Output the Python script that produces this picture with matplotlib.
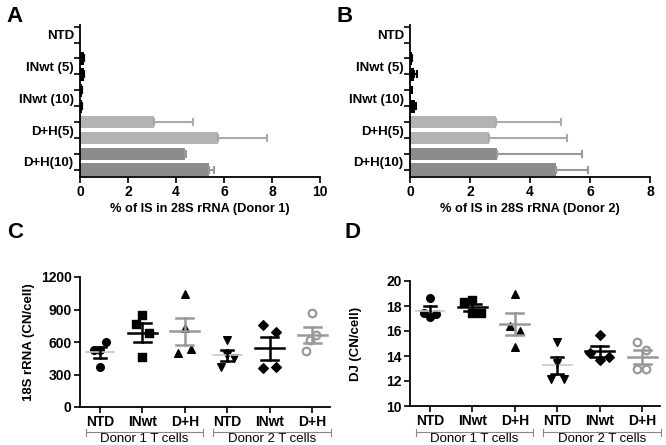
import numpy as np
import matplotlib
matplotlib.use("Agg")
import matplotlib.pyplot as plt
import matplotlib.transforms as mtransforms

plt.rcParams['font.family'] = ['Liberation Sans', 'DejaVu Sans']
plt.rcParams['axes.linewidth'] = 1.3

# panels A/B: two bars per condition
bar_groups = ["NTD", "INwt (5)", "INwt (10)", "D+H(5)", "D+H(10)"]
a_vals = [0.01, 0.01, 0.15, 0.15, 0.09, 0.09, 3.08, 5.74, 4.39, 5.38]
a_err = [0, 0, 0.02, 0.02, 0.01, 0.01, 1.61, 2.04, 0.02, 0.19]
b_vals = [0.01, 0.01, 0.07, 0.14, 0.04, 0.16, 2.87, 2.64, 2.89, 4.86]
b_err = [0, 0, 0.01, 0.10, 0.01, 0.05, 2.16, 2.58, 2.83, 1.08]

# panels C/D: dot plots
cats = ["NTD", "INwt", "D+H", "NTD", "INwt", "D+H"]
c_pts = [
    [526, 530, 597, 366],
    [849, 763, 680, 458],
    [1043, 726, 495, 532],
    [618, 480, 449, 366],
    [757, 695, 357, 366],
    [865, 665, 618, 520],
]
d_pts = [
    [18.67, 17.41, 17.10, 17.34],
    [18.29, 18.48, 17.40, 17.40],
    [18.93, 16.43, 16.00, 14.75],
    [15.15, 13.47, 12.20, 12.20],
    [15.68, 14.21, 13.68, 13.95],
    [15.15, 14.50, 12.95, 12.95],
]

# horizontal scatter of the points inside each column (layout only)
c_jit = [[-0.15, 0, 0.15, 0], [0, -0.15, 0.15, 0], [0, 0, -0.15, 0.15],
         [0, 0, 0.15, -0.15], [-0.15, 0.15, -0.15, 0.15], [0, 0.1, -0.05, -0.14]]
d_jit = [[0, -0.15, 0, 0.15], [-0.19, 0, 0, 0.2], [0, -0.12, 0.12, 0],
         [0, 0, -0.15, 0.15], [0, -0.22, 0, 0.22], [-0.12, 0.08, -0.12, 0.1]]

W, H = 666, 445
fig = plt.figure(figsize=(W / 100, H / 100), dpi=100)


def ax_px(l, t, r, b):
    return fig.add_axes([l / W, 1 - b / H, (r - l) / W, (b - t) / H])


def bar_panel(ax, vals, err, xmax, xlabel):
    y = np.arange(len(vals))
    cols = ["black"] * 6 + ["#b3b3b3"] * 2 + ["#8c8c8c"] * 2
    ecols = ["black"] * 6 + ["#aaaaaa"] * 2 + ["#999999"] * 2
    ax.barh(y, vals, height=0.8, color=cols)
    for yi, v, e, ec in zip(y, vals, err, ecols):
        if e > 0:
            ax.errorbar(v, yi, xerr=[[0], [e]], color=ec, lw=1.5, capsize=3, capthick=1.5)
    ax.set_ylim(9.45, -0.1)
    ax.set_xlim(0, xmax)
    ax.set_yticks(y)
    ax.set_yticklabels([])
    ax.set_yticks(np.arange(5) * 2 + 0.5, minor=True)
    ax.set_yticklabels(bar_groups, minor=True, fontweight='bold', fontsize=9.5)
    ax.tick_params(axis='y', which='minor', length=0, pad=4.5)
    ax.tick_params(axis='y', which='major', length=4, width=1.2)
    ax.set_xticks(np.arange(0, xmax + 1, 2))
    ax.tick_params(axis='x', length=4, width=1.2, labelsize=10, pad=2)
    for t in ax.get_xticklabels():
        t.set_fontweight('bold')
    ax.set_xlabel(xlabel, fontweight='bold', fontsize=9.2, labelpad=3)
    for s in ["top", "right"]:
        ax.spines[s].set_visible(False)


def dot_panel(ax, pts, jit, ylim, yticks, ylabel, lab_x):
    markers = ['o', 's', '^', 'v', 'D', 'o']
    sizes = [30, 30, 30, 30, 24, 30]
    for i, p in enumerate(pts):
        p = np.array(p, dtype=float)
        m = p.mean()
        sem = p.std(ddof=1) / np.sqrt(len(p))
        xs = i + np.array(jit[i])
        if i == 5:
            ax.scatter(xs, p, marker='o', s=sizes[i], facecolor='white',
                       edgecolor='#999999', lw=1.6, zorder=3)
        else:
            ax.scatter(xs, p, marker=markers[i], s=sizes[i], color='black', zorder=3)
        if i in (0, 3):
            mcol, ecol, mlw, cw = '#c8c8c8', 'black', 1.2, 0.14
        elif i in (2, 5):
            mcol, ecol, mlw, cw = '#999999', '#999999', 1.8, 0.2
        else:
            mcol, ecol, mlw, cw = 'black', 'black', 1.8, 0.2
        ax.plot([i - 0.34, i + 0.34], [m, m], color=mcol, lw=mlw, zorder=4)
        ax.plot([i, i], [m - sem, m + sem], color=ecol, lw=1.8, zorder=4)
        ax.plot([i - cw, i + cw], [m + sem, m + sem], color=ecol, lw=1.8, zorder=4)
        ax.plot([i - cw, i + cw], [m - sem, m - sem], color=ecol, lw=1.8, zorder=4)
    ax.set_xlim(-0.47, 5.42)
    ax.set_ylim(*ylim)
    ax.set_yticks(yticks)
    ax.set_xticks(range(len(cats)))
    ax.set_xticklabels(cats, fontweight='bold', fontsize=10)
    for t in ax.get_yticklabels():
        t.set_fontweight('bold')
    ax.tick_params(axis='both', length=4, width=1.2, labelsize=10, pad=2)
    ax.set_ylabel(ylabel, fontweight='bold', fontsize=9.5)
    ax.yaxis.set_label_coords(lab_x, 0.5)
    for s in ["top", "right"]:
        ax.spines[s].set_visible(False)
    # donor brackets
    tr = mtransforms.blended_transform_factory(ax.transData, fig.transFigure)
    yb = 1 - 432 / H
    for x0, x1, lab in [(-0.33, 2.43, "Donor 1 T cells"), (2.67, 5.45, "Donor 2 T cells")]:
        ax.plot([x0, x1], [yb, yb], color='#888888', lw=0.8, transform=tr, clip_on=False)
        for xx in (x0, x1):
            ax.plot([xx, xx], [yb - 3.5 / H, yb + 3.5 / H], color='#888888', lw=0.8,
                    transform=tr, clip_on=False)
        ax.text((x0 + x1) / 2, 1 - 439.5 / H, lab, transform=tr, ha='center', va='center',
                fontsize=9.5)


axA = ax_px(80, 25, 320, 177)
bar_panel(axA, a_vals, a_err, 10, "% of IS in 28S rRNA (Donor 1)")
axB = ax_px(410, 25, 650, 177)
bar_panel(axB, b_vals, b_err, 8, "% of IS in 28S rRNA (Donor 2)")
axC = ax_px(80, 277, 330, 407)
dot_panel(axC, c_pts, c_jit, (0, 1200), [0, 300, 600, 900, 1200], "18S rRNA (CN/cell)", -0.18)
axD = ax_px(410, 281, 660, 406)
dot_panel(axD, d_pts, d_jit, (10, 20), [10, 12, 14, 16, 18, 20], "DJ (CN/cell)", -0.19)

for lab, x, y in [("A", 6, 16), ("B", 337, 16), ("C", 7, 232), ("D", 344, 232)]:
    fig.text(x / W, 1 - y / H, lab, fontsize=16, fontweight='bold', va='center', ha='left')

fig.savefig("out.png", dpi=100)
